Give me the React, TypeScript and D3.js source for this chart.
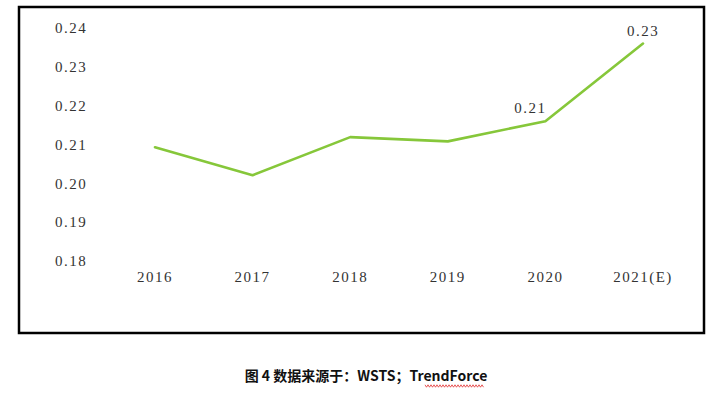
import * as d3 from 'd3'

const years = ['2016', '2017', '2018', '2019', '2020', '2021(E)']
const values = [0.2093, 0.2021, 0.2119, 0.2108, 0.216, 0.236]
const pointLabels = ['', '', '', '', '0.21', '0.23']
const yTicks = [0.18, 0.19, 0.2, 0.21, 0.22, 0.23, 0.24]
const caption = '图 4 数据来源于：WSTS；TrendForce'

const W = 721
const H = 394
const serif = '"Liberation Serif", "DejaVu Serif", serif'

export default function App() {
  const x = d3.scalePoint<string>().domain(years).range([155, 643])
  const y = d3.scaleLinear().domain([0.18, 0.24]).range([261, 28])

  const line = d3.line<number>()
    .x((_, i) => x(years[i]) as number)
    .y(v => y(v))

  // red squiggle under "TrendForce" (spell-check mark)
  const wave = d3.range(0, 60, 1.5).map((dx, i) => [425 + dx, 386 + (i % 2 ? 1.2 : -1.2)] as [number, number])

  return (
    <svg width={W} height={H} style={{ position: 'absolute', left: 0, top: 0, background: '#fff' }}>
      <rect x={19} y={7} width={685} height={326} fill="#fff" stroke="#000" strokeWidth={2.5} />

      {yTicks.map(t => (
        <text key={t} x={55} y={y(t)} dy="0.35em" fontFamily={serif} fontSize={15}
          letterSpacing={1.5} fill="#333">{d3.format('.2f')(t)}</text>
      ))}

      {years.map(yr => (
        <text key={yr} x={x(yr)} y={277} dy="0.35em" textAnchor="middle" fontFamily={serif}
          fontSize={15} letterSpacing={1.5} fill="#333">{yr}</text>
      ))}

      <path d={line(values) || ''} fill="none" stroke="#86c73a" strokeWidth={2.6}
        strokeLinejoin="round" strokeLinecap="round" />

      {values.map((v, i) => pointLabels[i] ? (
        <text key={i} x={(x(years[i]) as number) + (i === 4 ? -15 : 0)} y={y(v) - 8}
          textAnchor="middle" fontFamily={serif} fontSize={15} letterSpacing={1.5}
          fill="#333">{pointLabels[i]}</text>
      ) : null)}

      <text x={366} y={376} dy="0.35em" textAnchor="middle"
        fontFamily='"Noto Sans CJK SC", "Noto Sans", sans-serif' fontWeight="bold"
        fontSize={14} fill="#111">{caption}</text>
      <path d={d3.line()(wave) || ''} fill="none" stroke="#e03030" strokeWidth={0.8} />
    </svg>
  )
}
